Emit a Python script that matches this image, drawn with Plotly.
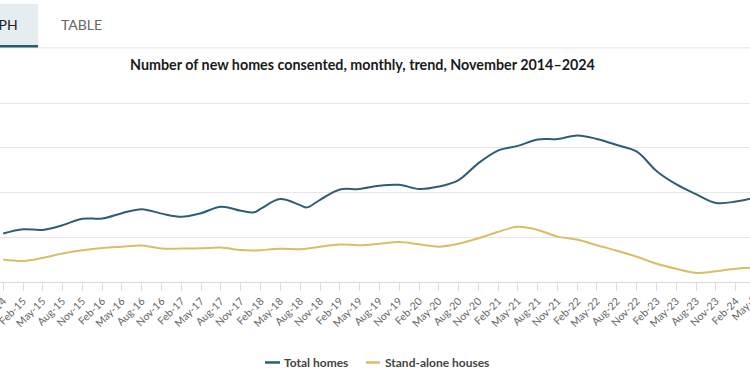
import plotly.graph_objects as go

# Quarterly readings (first of month), Nov-14 .. May-24, plus a few extra points at turning points
dates = [
    "2014-11-01", "2015-02-01", "2015-05-01", "2015-08-01", "2015-11-01",
    "2016-02-01", "2016-05-01", "2016-08-01", "2016-11-01",
    "2017-02-01", "2017-05-01", "2017-08-01", "2017-11-01", "2018-01-01",
    "2018-02-01", "2018-05-01", "2018-08-01", "2018-09-01", "2018-11-01",
    "2019-02-01", "2019-05-01", "2019-08-01", "2019-11-01",
    "2020-02-01", "2020-05-01", "2020-08-01", "2020-11-01",
    "2021-02-01", "2021-05-01", "2021-08-01", "2021-11-01",
    "2022-02-01", "2022-05-01", "2022-08-01", "2022-11-01",
    "2023-02-01", "2023-05-01", "2023-08-01", "2023-11-01",
    "2024-02-01", "2024-05-01",
]
total_homes = [
    2085, 2180, 2165, 2270, 2415,
    2420, 2540, 2630, 2530,
    2460, 2540, 2685, 2595, 2560,
    2640, 2855, 2720, 2670, 2840,
    3070, 3080, 3155, 3175,
    3080, 3135, 3280, 3660,
    3945, 4045, 4190, 4200,
    4280, 4200, 4065, 3915,
    3480, 3190, 2965, 2770,
    2800, 2890,
]
stand_alone = [
    1502, 1470, 1538, 1637, 1710,
    1762, 1790, 1816, 1750,
    1749, 1755, 1771, 1715, 1705,
    1712, 1745, 1733, 1745, 1790,
    1840, 1823, 1855, 1895,
    1845, 1790, 1855, 1980,
    2125, 2235, 2165, 2015,
    1945, 1823, 1700, 1565,
    1408, 1296, 1204, 1240,
    1296, 1323,
]

series_names = ["Total homes", "Stand-alone houses"]
series_colors = ["#2c5f73", "#d8bf63"]
title_text = "Number of new homes consented, monthly, trend, November 2014–2024"
cut_tick_label = "May-24"   # partly visible label just past the right edge

W, H = 750, 375
Y0, Y1 = 1000, 5050          # y range; 5000 gridline lands at ~103 px
B = 375 - 281.7
PX_PER_UNIT = (281.7 - 103.3) / 4000
T = 281.7 - (Y1 - Y0) * PX_PER_UNIT
PH = H - T - B


def py(y_px):
    """pixel y (from top) -> paper y"""
    return (H - B - y_px) / PH


def px(x_px):
    return x_px / W


fig = go.Figure()
for name, vals, col in zip(series_names, [total_homes, stand_alone], series_colors):
    fig.add_trace(go.Scatter(
        x=dates, y=vals, name=name, mode="lines",
        line=dict(color=col, width=2, shape="spline", smoothing=1.0),
        hoverinfo="x+y+name", showlegend=False,
    ))

tick_font = dict(size=10.5, color="#666", family="Lato, sans-serif")

fig.update_layout(
    width=W, height=H,
    margin=dict(l=0, r=0, t=T, b=B, autoexpand=False),
    paper_bgcolor="white", plot_bgcolor="white",
    font=dict(family="Lato, 'Open Sans', sans-serif", color="#333"),
    title=dict(
        text="<b>" + title_text + "</b>",
        x=0.4833, xanchor="center", xref="container",
        y=1 - 65 / H, yanchor="middle", yref="container",
        font=dict(size=14.3, color="#1a1a1a", family="Lato, sans-serif"),
    ),
    showlegend=False,
    xaxis=dict(
        type="date", automargin=False,
        range=["2014-10-17", "2024-04-06"],
        tick0="2014-11-01", dtick="M3", tickformat="%b-%y",
        tickangle=-45, ticks="outside", ticklen=8, tickcolor="#dcdcdc",
        ticklabeloverflow="allow",
        tickfont=tick_font,
        showgrid=False, showline=True, linecolor="#dcdcdc", linewidth=1,
        zeroline=False,
    ),
    yaxis=dict(
        automargin=False,
        range=[Y0, Y1], tick0=1000, dtick=1000, showgrid=True, gridcolor="#e6e6e6",
        gridwidth=1, zeroline=False, showticklabels=False, showline=False,
    ),
)

# Partly visible tick label beyond the right edge
fig.add_annotation(text=cut_tick_label, xref="paper", yref="paper", x=px(764), xanchor="right",
                   y=py(287), yanchor="top", textangle=-45, showarrow=False, borderpad=0,
                   font=tick_font)

# Custom legend (short line samples, bold labels)
leg_y = py(362)
for (x0, x1, tx), name, col in zip([(265, 280, 285), (366, 380, 386)], series_names, series_colors):
    fig.add_shape(type="line", xref="paper", yref="paper", x0=px(x0), x1=px(x1),
                  y0=leg_y, y1=leg_y, line=dict(color=col, width=2.5))
    fig.add_annotation(text="<b>" + name + "</b>", xref="paper", yref="paper",
                       x=px(tx), xanchor="left", y=leg_y, yanchor="middle",
                       showarrow=False, borderpad=0, xshift=-2,
                       font=dict(size=12, color="#444", family="Lato, sans-serif"))

# Tab bar at the top (GRAPH / TABLE), cut off at the left like the reference
fig.add_shape(type="rect", xref="paper", yref="paper", x0=0, x1=px(38),
              y0=py(47), y1=py(4), fillcolor="#e6edf1", line=dict(width=0), layer="below")
fig.add_shape(type="line", xref="paper", yref="paper", x0=0, x1=1,
              y0=py(48), y1=py(48), line=dict(color="#e3e3e3", width=1))
fig.add_shape(type="line", xref="paper", yref="paper", x0=0, x1=px(38),
              y0=py(46.5), y1=py(46.5), line=dict(color="#2b5a6a", width=2.5))
fig.add_annotation(text="GRAPH", xref="paper", yref="paper", x=px(19), xanchor="right",
                   y=py(25), yanchor="middle", showarrow=False, borderpad=0,
                   font=dict(size=14, color="#222", family="Lato, sans-serif"))
fig.add_annotation(text="TABLE", xref="paper", yref="paper", x=px(60), xanchor="left",
                   y=py(25), yanchor="middle", showarrow=False, borderpad=0,
                   font=dict(size=14, color="#666", family="Lato, sans-serif"))

fig.write_html(
    "out.html",
    config={"displayModeBar": False},
    post_script="document.body.style.margin='0px';document.body.style.overflow='hidden';",
)
